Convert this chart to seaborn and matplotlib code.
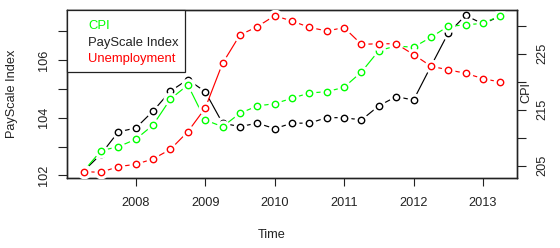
import numpy as np
import pandas as pd
import matplotlib
matplotlib.use("Agg")
import matplotlib.pyplot as plt
from matplotlib.patches import Rectangle
import seaborn as sns

# ---- data (quarterly, 2007 Q2 .. 2013 Q2) ----
time = [2007.25, 2007.5, 2007.75, 2008.0, 2008.25, 2008.5, 2008.75,
        2009.0, 2009.25, 2009.5, 2009.75, 2010.0, 2010.25, 2010.5, 2010.75,
        2011.0, 2011.25, 2011.5, 2011.75, 2012.0, 2012.25, 2012.5, 2012.75,
        2013.0, 2013.25]
payscale = [102.15, 102.74, 103.51, 103.64, 104.23, 104.92, 105.32,
            104.90, 103.81, 103.69, 103.81, 103.62, 103.81, 103.81, 104.00,
            104.00, 103.92, 104.41, 104.73, 104.61, 105.78, 106.93, 107.54,
            107.25, 107.52]
cpi = [204.05, 207.68, 208.39, 209.71, 212.27, 216.91, 219.41,
       213.16, 211.96, 214.36, 215.66, 216.07, 217.04, 217.98, 218.21,
       219.00, 221.73, 225.54, 226.38, 226.14, 227.93, 229.89, 230.13,
       230.43, 231.79]
unemployment = [4.50, 4.48, 4.68, 4.76, 4.95, 5.29, 5.91,
                6.74, 8.32, 9.32, 9.61, 10.00, 9.81, 9.59, 9.46,
                9.58, 8.99, 9.01, 9.01, 8.63, 8.22, 8.09, 7.97,
                7.78, 7.66]

legend_labels = ["CPI", "PayScale Index", "Unemployment"]
x_ticks = [2008, 2009, 2010, 2011, 2012, 2013]
left_ticks = [102, 103, 104, 105, 106, 107]
left_labels = ["102", "", "104", "", "106", ""]
right_ticks = [205, 210, 215, 220, 225, 230]
right_labels = ["205", "", "215", "", "225", ""]

df = pd.DataFrame({"Time": time, "PayScale": payscale, "CPI": cpi,
                   "Unemployment": unemployment})

sns.set_style("ticks")
plt.rcParams["font.family"] = ["Liberation Sans", "DejaVu Sans"]
plt.rcParams["font.size"] = 9.2

fig = plt.figure(figsize=(5.6, 2.48), dpi=100)
ax = fig.add_axes([67 / 560, 1 - 178 / 248, 450 / 560, 168 / 248])
ax2 = ax.twinx()
ax3 = ax.twinx()

GREEN = "#00FF00"
RED = "#FF0000"
BLACK = "#000000"
TXT = "#222222"


def draw_series(a, ycol, color, z):
    sns.lineplot(data=df, x="Time", y=ycol, ax=a, color=color, lw=0.85,
                 zorder=z, legend=False)
    a.plot(df["Time"], df[ycol], ls="none", marker="o", ms=10,
           mfc="white", mec="none", zorder=z + 0.1)
    a.plot(df["Time"], df[ycol], ls="none", marker="o", ms=4.6,
           mfc="none", mec=color, mew=1.0, zorder=z + 0.2)


draw_series(ax, "PayScale", BLACK, 3)
draw_series(ax2, "CPI", GREEN, 3)
draw_series(ax3, "Unemployment", RED, 3)

xlim = (2007.01, 2013.49)
for a in (ax, ax2, ax3):
    a.set_xlim(*xlim)
ax.set_ylim(101.91, 107.73)
ax2.set_ylim(202.8, 232.8)
ax3.set_ylim(4.278, 10.20)

# left axis
ax.set_yticks(left_ticks)
ax.set_yticklabels(left_labels, rotation=90, va="center")
ax.set_xticks(x_ticks)
ax.set_xticklabels([str(t) for t in x_ticks])
ax.tick_params(axis="y", length=6.5, width=0.8, pad=5.5, colors=TXT,
               labelcolor=TXT)
ax.tick_params(axis="x", length=6, width=0.8, pad=8, colors=TXT,
               labelcolor=TXT)
ax.set_ylabel("PayScale Index", color=TXT)
ax.yaxis.set_label_coords(-0.108, 0.5)
ax.set_xlabel("Time", color=TXT)
ax.xaxis.set_label_coords(0.456, -0.305)

# right axis
ax2.set_yticks(right_ticks)
ax2.set_yticklabels(right_labels, rotation=90, va="center")
ax2.tick_params(axis="y", length=6.5, width=0.8, pad=7.2, colors=TXT,
                labelcolor=TXT)
ax2.set_ylabel("CPI", color=TXT, rotation=90)
ax2.yaxis.set_label_coords(1.007, 0.508)

ax3.set_yticks([])
ax3.set_ylabel("")
ax3.tick_params(axis="y", length=0)

for a in (ax, ax2, ax3):
    for s in a.spines.values():
        s.set_visible(True)
        s.set_color(TXT)
        s.set_linewidth(0.9)

# legend box (text only, coloured)
bx0, by1 = 0.0, 1.0
bw = (185.3 - 67) / 450
bh = (71.7 - 10) / 168
ax3.add_patch(Rectangle((bx0, by1 - bh), bw, bh, transform=ax3.transAxes,
                        facecolor="white", edgecolor=TXT, lw=0.9,
                        zorder=10, clip_on=False))
leg_colors = [GREEN, TXT, RED]
leg_y = [26, 42.5, 59]
for lab, col, yy in zip(legend_labels, leg_colors, leg_y):
    ax3.text((88 - 67) / 450, (178 - yy) / 168, lab, color=col,
             transform=ax3.transAxes, va="center", ha="left",
             fontsize=9.4, zorder=11)

fig.savefig("out.png", dpi=100)
